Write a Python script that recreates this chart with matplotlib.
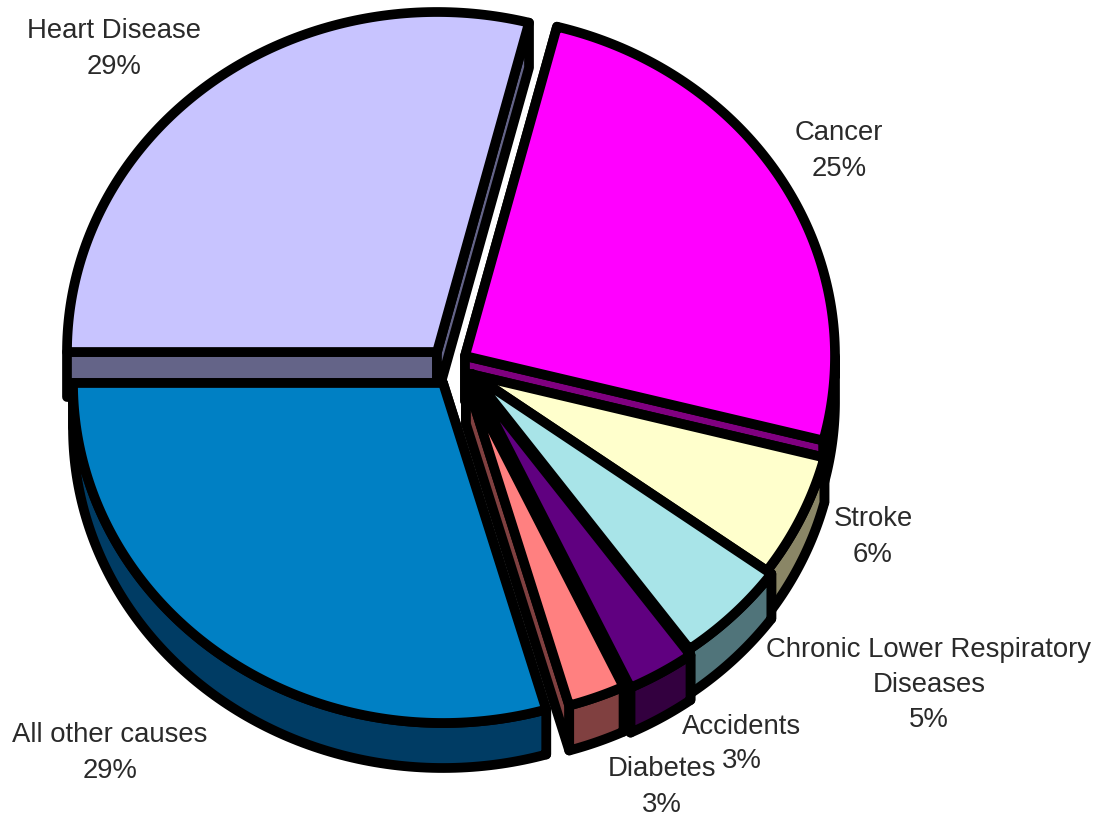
import numpy as np
import matplotlib
matplotlib.use('Agg')
import matplotlib.pyplot as plt
from matplotlib.patches import Polygon

causes = ['Heart Disease', 'Cancer', 'Stroke', 'Chronic Lower Respiratory\nDiseases',
          'Accidents', 'Diabetes', 'All other causes']
shown_pct = ['29%', '25%', '6%', '5%', '3%', '3%', '29%']
shares = [29.0, 25.0, 6.0, 5.0, 3.0, 2.5, 29.5]

top_colors = ['#C8C4FF', '#FF00FF', '#FFFFCC', '#A8E4E8', '#600080', '#FF8080', '#0080C4']
wall_colors = ['#646488', '#800080', '#8A8666', '#50747A', '#33003F', '#804040', '#003C64']

# each slice is pulled out by hand, as in the picture
centers = [(437, 352), (465, 356), (466, 373), (472, 374), (473, 380), (466, 379), (443, 383)]
label_xy = [(114, 49), (839, 151), (873, 537), (929, 685), (742, 744), (662, 787), (110, 753)]

RX, RY = 370, 340
DEPTH = 45
LW = 7

plt.rcParams['font.family'] = ['Liberation Sans', 'DejaVu Sans']
fig = plt.figure(figsize=(10.98, 8.18), dpi=100)
ax = fig.add_axes([0, 0, 1, 1])
ax.set_xlim(0, 1098)
ax.set_ylim(818, 0)
ax.axis('off')


def arc(cx, cy, a1, a2, drop=0):
    t = np.radians(np.linspace(a1, a2, 120))
    return np.column_stack([cx + RX * np.cos(t), cy + drop - RY * np.sin(t)])


def shape(pts, color, z):
    ax.add_patch(Polygon(pts, closed=True, facecolor=color, edgecolor='black',
                         linewidth=LW, joinstyle='round', zorder=z))


# angles run clockwise from the left side of the pie
edges = 180 - 3.6 * np.cumsum([0] + shares)

for i in range(len(shares)):
    cx, cy = centers[i]
    a1, a2 = edges[i], edges[i + 1]
    z = 2 + i * 3
    tip = np.array([[cx, cy]])
    p1 = arc(cx, cy, a1, a1, 0)[:1]
    p2 = arc(cx, cy, a2, a2, 0)[:1]
    down = np.array([0, DEPTH])

    # cut faces first
    shape(np.vstack([tip, p1, p1 + down, tip + down]), wall_colors[i], z)
    shape(np.vstack([tip, p2, p2 + down, tip + down]), wall_colors[i], z)

    # outer wall, only the lower half of the ellipse shows
    lo, hi = max(a2, -180), min(a1, 0)
    if a2 >= 0:
        lo = hi = 0
    if hi > lo:
        shape(np.vstack([arc(cx, cy, hi, lo), arc(cx, cy, lo, hi, DEPTH)]), wall_colors[i], z + 1)

    shape(np.vstack([tip, arc(cx, cy, a1, a2)]), top_colors[i], z + 2)

for i in range(len(causes)):
    ax.text(label_xy[i][0], label_xy[i][1], causes[i] + '\n' + shown_pct[i], ha='center', va='center',
            fontsize=19.8, color='#2a2a2a', linespacing=1.45, zorder=40)

fig.savefig('out.png', dpi=100, facecolor='white')
